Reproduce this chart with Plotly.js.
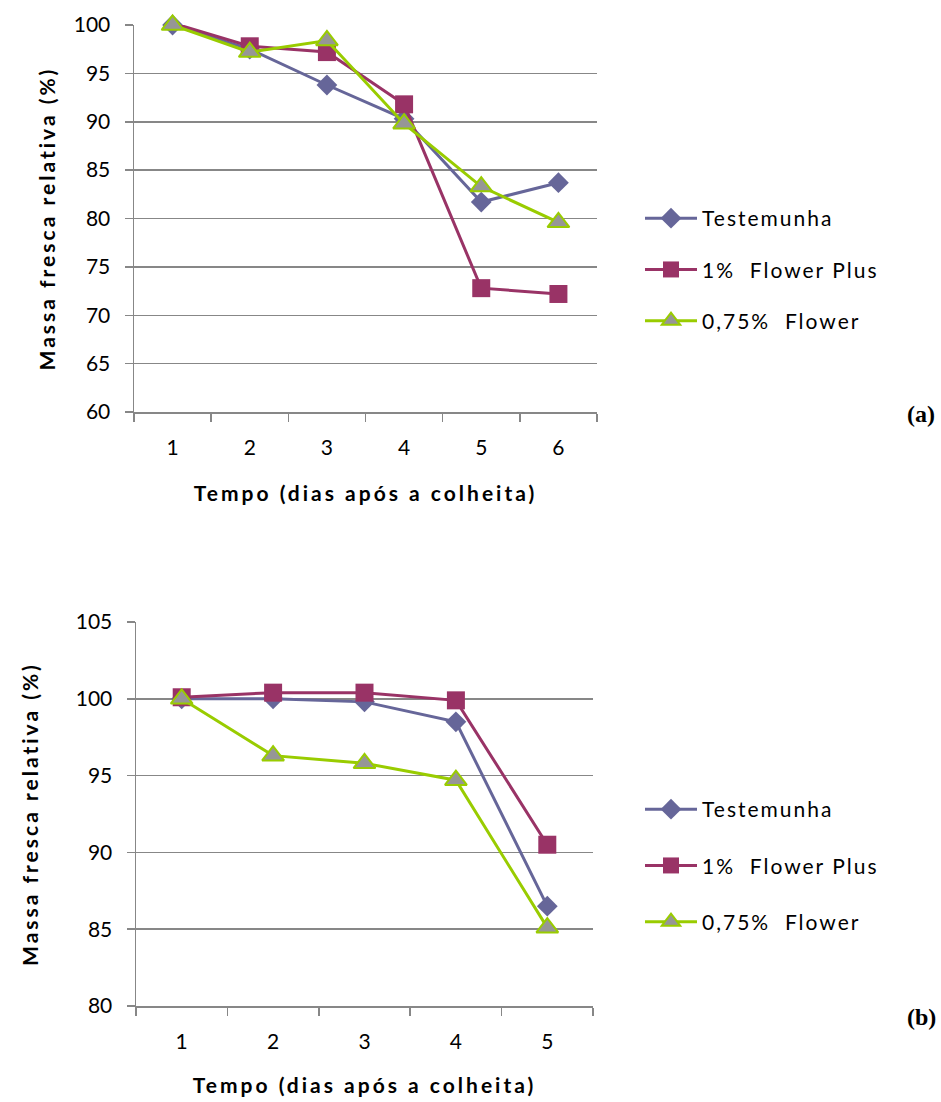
<!DOCTYPE html>
<html>
<head>
<meta charset="utf-8">
<script src="https://cdn.plot.ly/plotly-3.0.1.min.js"></script>
<style>
html,body{margin:0;padding:0;background:#fff;}
#chart{width:941px;height:1102px;}
text.xtitle, text.x2title, text.ytitle, text.y2title { letter-spacing: 3px; }
text.legendtext, text.legend2text { letter-spacing: 2px; }
</style>
</head>
<body>
<div id="chart"></div>
<script>
// ---- Data ----
const seriesNames = ["Testemunha", "1%  Flower Plus", "0,75%  Flower"];

// Chart (a)
const daysA = ["1", "2", "3", "4", "5", "6"];
const testemunhaA = [100.0, 97.5, 93.8, 90.3, 81.7, 83.7];
const flowerPlusA = [100.2, 97.8, 97.2, 91.8, 72.8, 72.2];
const flowerA     = [100.0, 97.2, 98.4, 89.8, 83.3, 79.6];

// Chart (b)
const daysB = ["1", "2", "3", "4", "5"];
const testemunhaB = [100.0, 100.0, 99.8, 98.5, 86.5];
const flowerPlusB = [100.1, 100.4, 100.4, 99.9, 90.5];
const flowerB     = [100.0, 96.3, 95.8, 94.7, 85.1];

const yTicksA = [60, 65, 70, 75, 80, 85, 90, 95, 100];
const yTicksB = [80, 85, 90, 95, 100, 105];

// ---- Styles ----
const colors = ["#666699", "#993366", "#99cc00"];
const FONT = "Lato, 'Open Sans', sans-serif";
const GRID = "#878787";

function styleFor(i) {
  if (i === 0) return {marker: {symbol: "diamond", size: 16, color: colors[0]}};
  if (i === 1) return {marker: {symbol: "square", size: 18, color: colors[1]}};
  return {marker: {symbol: "triangle-up", size: 19, color: "#969696", line: {color: colors[2], width: 2}}};
}

function mk(x, y, i, xa, ya, leg) {
  const s = styleFor(i);
  return {
    x: x, y: y, type: "scatter", mode: "lines+markers",
    name: seriesNames[i], xaxis: xa, yaxis: ya, legend: leg,
    legendgroup: leg + i,
    line: {color: colors[i], width: 3},
    marker: s.marker,
    cliponaxis: false
  };
}

const data = [
  mk(daysA, testemunhaA, 0, "x", "y", "legend"),
  mk(daysA, flowerPlusA, 1, "x", "y", "legend"),
  mk(daysA, flowerA, 2, "x", "y", "legend"),
  mk(daysB, testemunhaB, 0, "x2", "y2", "legend2"),
  mk(daysB, flowerPlusB, 1, "x2", "y2", "legend2"),
  mk(daysB, flowerB, 2, "x2", "y2", "legend2")
];

const W = 941, H = 1102;
const tickFont = {family: FONT, size: 21, color: "#000"};
const titleFont = {family: FONT, size: 21, color: "#000", weight: "bold"};

function xAxis(domain, anchor, cats, standoff) {
  return {
    domain: domain, anchor: anchor, type: "category",
    categoryorder: "array", categoryarray: cats,
    range: [-0.5, cats.length - 0.5],
    tickson: "boundaries", ticks: "outside", ticklen: 8, tickwidth: 1.5, tickcolor: GRID,
    showline: true, linecolor: GRID, linewidth: 1.5,
    showgrid: false, zeroline: false,
    tickfont: tickFont, ticklabelstandoff: 16,
    title: {text: "Tempo (dias após a colheita)", font: titleFont, standoff: standoff},
    automargin: false, fixedrange: true
  };
}
function yAxis(domain, anchor, ticks, standoff) {
  return {
    domain: domain, anchor: anchor,
    range: [ticks[0], ticks[ticks.length - 1]],
    tickvals: ticks, ticktext: ticks.map(String),
    ticks: "outside", ticklen: 8, tickwidth: 1.5, tickcolor: GRID,
    showline: true, linecolor: GRID, linewidth: 1.5,
    showgrid: true, gridcolor: GRID, gridwidth: 1.5, zeroline: false,
    tickfont: tickFont, ticklabelstandoff: 10,
    title: {text: "Massa fresca relativa (%)", font: titleFont, standoff: standoff},
    automargin: false, fixedrange: true
  };
}

const legendBase = {
  font: {family: FONT, size: 21, color: "#000"},
  bgcolor: "rgba(0,0,0,0)", borderwidth: 0,
  xanchor: "left", yanchor: "top",
  traceorder: "grouped", itemwidth: 52
};

const layout = {
  width: W, height: H,
  margin: {l: 0, r: 0, t: 0, b: 0},
  paper_bgcolor: "#fff", plot_bgcolor: "#fff",
  showlegend: true,
  xaxis: xAxis([134 / W, 597 / W], "y", daysA, 28),
  yaxis: yAxis([1 - 412 / H, 1 - 25 / H], "x", yTicksA, 12),
  xaxis2: xAxis([136 / W, 593 / W], "y2", daysB, 26),
  yaxis2: yAxis([1 - 1006 / H, 1 - 622 / H], "x2", yTicksB, 31),
  legend: Object.assign({}, legendBase, {x: 640 / W, y: 1 - 198 / H, tracegroupgap: 21}),
  legend2: Object.assign({}, legendBase, {x: 640 / W, y: 1 - 789 / H, tracegroupgap: 26}),
  annotations: [
    {text: "<b>(a)</b>", xref: "paper", yref: "paper", x: 921 / W, y: 1 - 414 / H,
     showarrow: false, xanchor: "center", yanchor: "middle",
     font: {family: "'Liberation Serif', 'Times New Roman', serif", size: 24, color: "#000"}},
    {text: "<b>(b)</b>", xref: "paper", yref: "paper", x: 921 / W, y: 1 - 1017 / H,
     showarrow: false, xanchor: "center", yanchor: "middle",
     font: {family: "'Liberation Serif', 'Times New Roman', serif", size: 24, color: "#000"}}
  ]
};

Plotly.newPlot("chart", data, layout, {displayModeBar: false, staticPlot: true});
</script>
</body>
</html>
